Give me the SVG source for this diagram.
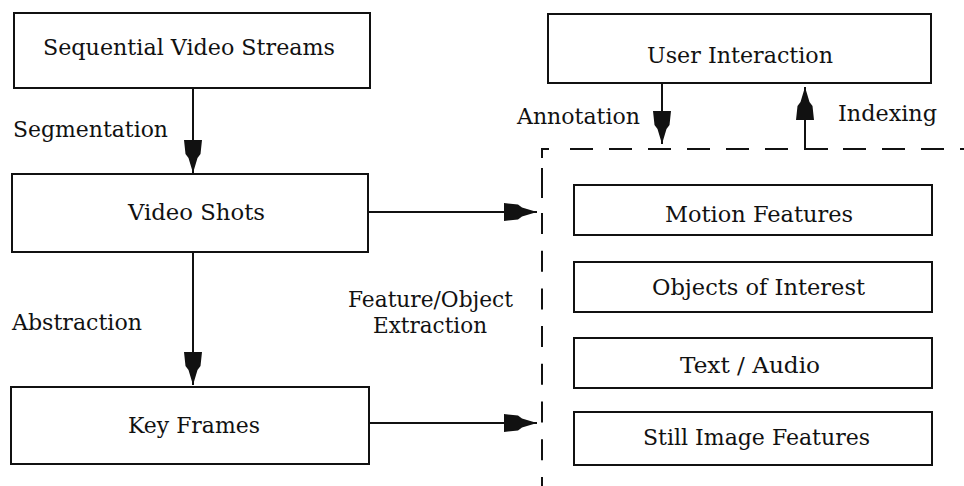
<svg xmlns="http://www.w3.org/2000/svg" width="964" height="486" viewBox="0 0 964 486">
  <style>
    .box { fill: #ffffff; stroke: #111111; stroke-width: 2; }
    .lbl { font-family: "DejaVu Serif", "Liberation Serif", serif; font-size: 22.5px; fill: #111111; }
    .wire { fill: none; stroke: #111111; stroke-width: 2; }
    .dash { fill: none; stroke: #111111; stroke-width: 2; }
  </style>
  <defs>
    <marker id="head" markerUnits="userSpaceOnUse" markerWidth="36" markerHeight="22" viewBox="-34 -11 36 22" refX="0" refY="0" orient="auto">
      <polygon points="-33,-9 -19,-7.5 -15,-4.5 0,0 -15,4.5 -19,7.5 -33,9" fill="#111111"/>
    </marker>
  </defs>

  <rect width="964" height="486" fill="#ffffff"/>

  <!-- feature region outline -->
  <g id="feature-region">
    <path class="dash" d="M549 149 H542 V158"/>
    <path class="dash" d="M570 149 H964" stroke-dasharray="23 16"/>
    <path class="dash" d="M542 168 V198"/>
    <path class="dash" d="M542 213 V486" stroke-dasharray="21 16.7"/>
  </g>

  <g id="connectors">
    <line class="wire" x1="193" y1="88" x2="193" y2="173" marker-end="url(#head)"/>
    <line class="wire" x1="193" y1="252" x2="193" y2="385" marker-end="url(#head)"/>
    <line class="wire" x1="368" y1="212" x2="537" y2="212" marker-end="url(#head)"/>
    <line class="wire" x1="369" y1="423" x2="537" y2="423" marker-end="url(#head)"/>
    <line class="wire" x1="662" y1="83" x2="662" y2="144" marker-end="url(#head)"/>
    <path class="wire" d="M828 149 H805 V87" marker-end="url(#head)"/>
  </g>

  <g id="sequential-video-streams">
    <rect class="box" x="14" y="13" width="356" height="75"/>
    <text class="lbl" x="43" y="55" textLength="292" lengthAdjust="spacingAndGlyphs">Sequential Video Streams</text>
  </g>

  <g id="video-shots">
    <rect class="box" x="12" y="174" width="356" height="78"/>
    <text class="lbl" x="128" y="220" textLength="137" lengthAdjust="spacingAndGlyphs">Video Shots</text>
  </g>

  <g id="key-frames">
    <rect class="box" x="11" y="387" width="358" height="77"/>
    <text class="lbl" x="128" y="433" textLength="132" lengthAdjust="spacingAndGlyphs">Key Frames</text>
  </g>

  <g id="user-interaction">
    <rect class="box" x="548" y="14" width="383" height="69"/>
    <text class="lbl" x="647" y="63" textLength="186" lengthAdjust="spacingAndGlyphs">User Interaction</text>
  </g>

  <g id="motion-features">
    <rect class="box" x="574" y="185" width="358" height="50"/>
    <text class="lbl" x="665" y="222" textLength="188" lengthAdjust="spacingAndGlyphs">Motion Features</text>
  </g>

  <g id="objects-of-interest">
    <rect class="box" x="574" y="262" width="358" height="50"/>
    <text class="lbl" x="652" y="295" textLength="213" lengthAdjust="spacingAndGlyphs">Objects of Interest</text>
  </g>

  <g id="text-audio">
    <rect class="box" x="574" y="338" width="358" height="50"/>
    <text class="lbl" x="680" y="373" textLength="140" lengthAdjust="spacingAndGlyphs">Text / Audio</text>
  </g>

  <g id="still-image-features">
    <rect class="box" x="574" y="412" width="358" height="53"/>
    <text class="lbl" x="643" y="445" textLength="227" lengthAdjust="spacingAndGlyphs">Still Image Features</text>
  </g>

  <g id="edge-labels">
    <text class="lbl" x="13" y="137" textLength="155" lengthAdjust="spacingAndGlyphs">Segmentation</text>
    <text class="lbl" x="12" y="330" textLength="130" lengthAdjust="spacingAndGlyphs">Abstraction</text>
    <text class="lbl" x="348" y="307" textLength="165" lengthAdjust="spacingAndGlyphs">Feature/Object</text>
    <text class="lbl" x="373" y="333" textLength="114" lengthAdjust="spacingAndGlyphs">Extraction</text>
    <text class="lbl" x="517" y="124" textLength="123" lengthAdjust="spacingAndGlyphs">Annotation</text>
    <text class="lbl" x="838" y="121" textLength="99" lengthAdjust="spacingAndGlyphs">Indexing</text>
  </g>
</svg>
